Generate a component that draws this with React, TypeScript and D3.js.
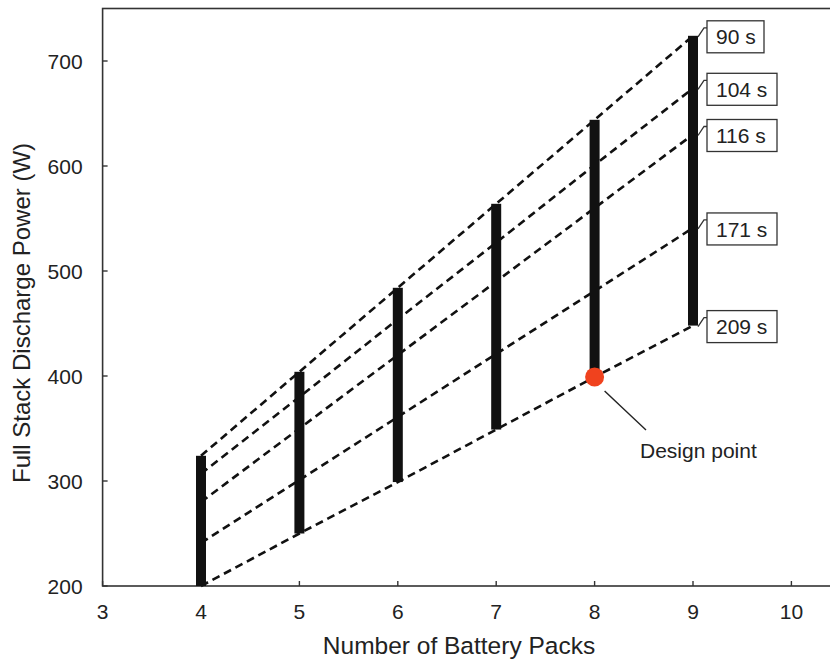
import React from 'react'
import * as d3 from 'd3'

// battery packs on the x axis, one bar per pack count
const packs = [4, 5, 6, 7, 8, 9]

// discharge power (W) for each discharge time
const durations = ['90 s', '104 s', '116 s', '171 s', '209 s']
const power90 = [324, 404, 484, 564, 644, 724]
const power104 = [307, 380, 454, 527, 601, 674]
const power116 = [280, 350, 420, 490, 560, 630]
const power171 = [241, 301, 361, 421, 481, 541]
const power209 = [200, 250, 299, 349, 399, 448]
const series = [power90, power104, power116, power171, power209]

const designPacks = 8
const designPower = 399

const xTicks = [3, 4, 5, 6, 7, 8, 9, 10]
const yTicks = [200, 300, 400, 500, 600, 700]

const width = 830
const height = 661
const font = "Arial, 'Liberation Sans', sans-serif"

export default function App() {
    const x = d3.scaleLinear().domain([3, 10]).range([102.6, 791.4])
    const y = d3.scaleLinear().domain([200, 700]).range([586, 61])

    const line = d3.line<number>()
        .x((d, i) => x(packs[i]))
        .y(d => y(d))

    const left = x(3)
    const top = y(750)
    const bottom = y(200)
    const barW = 10
    const last = packs.length - 1

    return (
        <svg width={width} height={height}
            style={{position: 'absolute', left: 0, top: 0, background: '#fff'}}
            fontFamily={font}>
            {/* frame, right side runs past the picture edge */}
            <rect x={left} y={top} width={width + 10 - left} height={bottom - top}
                fill="none" stroke="#333" strokeWidth={1.6} />

            {yTicks.map(t => (
                <g key={'y' + t}>
                    <line x1={left} x2={left + 5} y1={y(t)} y2={y(t)} stroke="#333" strokeWidth={1.4} />
                    <text x={left - 20} y={y(t)} dy="0.36em" textAnchor="end" fontSize={21} fill="#222">{t}</text>
                </g>
            ))}
            {xTicks.map(t => (
                <g key={'x' + t}>
                    <line x1={x(t)} x2={x(t)} y1={bottom} y2={bottom - 5} stroke="#333" strokeWidth={1.4} />
                    <text x={x(t)} y={619} textAnchor="middle" fontSize={21} fill="#222">{t}</text>
                </g>
            ))}

            <text x={459} y={654} textAnchor="middle" fontSize={24.5} fill="#222">Number of Battery Packs</text>
            <text transform={`translate(30,${313}) rotate(-90)`} textAnchor="middle" fontSize={24} fill="#222">
                Full Stack Discharge Power (W)
            </text>

            {series.map((s, k) => (
                <path key={'l' + k} d={line(s) || ''} fill="none" stroke="#111"
                    strokeWidth={2.6} strokeDasharray="8,5" />
            ))}

            {packs.map((p, i) => (
                <rect key={'b' + p} x={x(p) - barW / 2} y={y(power90[i])} width={barW}
                    height={y(power209[i]) - y(power90[i])} fill="#111" />
            ))}

            {/* design point and its leader */}
            <line x1={x(designPacks) + 10} y1={y(designPower) + 14} x2={646} y2={430} stroke="#222" strokeWidth={1.4} />
            <circle cx={x(designPacks)} cy={y(designPower)} r={9.5} fill="#F0421E" />
            <text x={640} y={458} fontSize={21} fill="#222">Design point</text>

            {/* callouts at the right end of each line */}
            {series.map((s, k) => {
                const yv = y(s[last])
                const bx = 707
                const by = yv - 15
                const bw = durations[k].length > 4 ? 70 : 57
                const bx0 = x(packs[last]) + barW / 2
                return (
                    <g key={'c' + k}>
                        <rect x={bx} y={by} width={bw} height={32} fill="#fff" stroke="#333" strokeWidth={1.3} />
                        <path d={`M${bx0},${yv + 1} L${bx - 3},${by + 7} L${bx},${by + 7}`}
                            fill="none" stroke="#333" strokeWidth={1.3} />
                        <text x={bx + 9} y={by + 16} dy="0.36em" fontSize={21} fill="#222">{durations[k]}</text>
                    </g>
                )
            })}
        </svg>
    )
}
